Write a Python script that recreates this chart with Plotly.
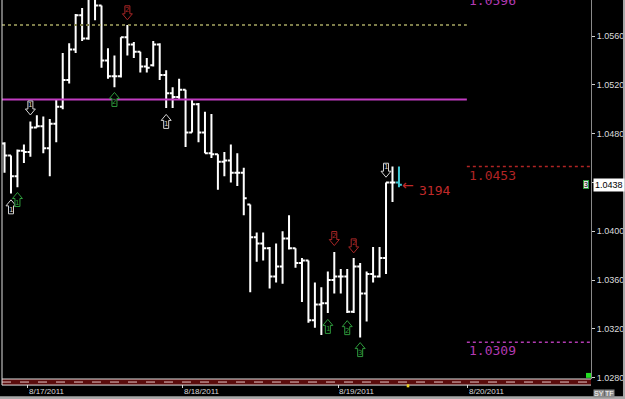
import plotly.graph_objects as go

# ---- hourly OHLC bars (index 0..61), last bar is the live (cyan) bar ----
bar_open = [1.0472, 1.0462, 1.0445, 1.0466, 1.0465, 1.0485, 1.0486, 1.0468, 1.0488, 1.0502,
            1.0524, 1.0549, 1.0577, 1.0558, 1.0592, 1.0585, 1.0540, 1.0527, 1.0527, 1.0559,
            1.0553, 1.0547, 1.0535, 1.0536, 1.0553, 1.0528, 1.0513, 1.0510, 1.0516, 1.0481,
            1.0504, 1.0481, 1.0464, 1.0463, 1.0457, 1.0458, 1.0448, 1.0448, 1.0422, 1.0395,
            1.0390, 1.0386, 1.0363, 1.0371, 1.0394, 1.0386, 1.0374, 1.0376, 1.0327, 1.0340,
            1.0341, 1.0360, 1.0363, 1.0363, 1.0334, 1.0371, 1.0349, 1.0365, 1.0363, 1.0378,
            1.0440, 1.0440]
bar_high = [1.0473, 1.0462, 1.0467, 1.0471, 1.0490, 1.0495, 1.0494, 1.0492, 1.0508, 1.0546,
            1.0554, 1.0578, 1.0583, 1.0598, 1.0596, 1.0585, 1.0550, 1.0544, 1.0559, 1.0569,
            1.0555, 1.0547, 1.0542, 1.0556, 1.0554, 1.0532, 1.0518, 1.0525, 1.0516, 1.0508,
            1.0505, 1.0498, 1.0496, 1.0463, 1.0465, 1.0471, 1.0464, 1.0452, 1.0422, 1.0399,
            1.0399, 1.0387, 1.0390, 1.0400, 1.0413, 1.0386, 1.0378, 1.0376, 1.0358, 1.0354,
            1.0367, 1.0383, 1.0369, 1.0369, 1.0378, 1.0374, 1.0367, 1.0387, 1.0387, 1.0440,
            1.0453, 1.0453]
bar_low = [1.0448, 1.0431, 1.0436, 1.0456, 1.0461, 1.0485, 1.0464, 1.0445, 1.0473, 1.0500,
           1.0521, 1.0546, 1.0556, 1.0557, 1.0573, 1.0534, 1.0525, 1.0518, 1.0526, 1.0544,
           1.0542, 1.0530, 1.0530, 1.0535, 1.0524, 1.0501, 1.0501, 1.0508, 1.0469, 1.0481,
           1.0473, 1.0464, 1.0460, 1.0434, 1.0445, 1.0440, 1.0437, 1.0413, 1.0350, 1.0375,
           1.0376, 1.0353, 1.0358, 1.0357, 1.0385, 1.0370, 1.0342, 1.0325, 1.0321, 1.0315,
           1.0333, 1.0349, 1.0349, 1.0333, 1.0333, 1.0313, 1.0326, 1.0358, 1.0362, 1.0365,
           1.0424, 1.0436]
bar_close = [1.0462, 1.0445, 1.0466, 1.0465, 1.0485, 1.0486, 1.0468, 1.0488, 1.0502, 1.0524,
             1.0549, 1.0577, 1.0558, 1.0592, 1.0585, 1.0540, 1.0527, 1.0527, 1.0559, 1.0553,
             1.0547, 1.0535, 1.0534, 1.0553, 1.0528, 1.0513, 1.0510, 1.0516, 1.0481, 1.0504,
             1.0481, 1.0464, 1.0463, 1.0457, 1.0458, 1.0448, 1.0448, 1.0427, 1.0395, 1.0390,
             1.0386, 1.0363, 1.0371, 1.0394, 1.0386, 1.0374, 1.0376, 1.0327, 1.0340, 1.0341,
             1.0360, 1.0363, 1.0363, 1.0334, 1.0371, 1.0349, 1.0365, 1.0363, 1.0378, 1.0440,
             1.0440, 1.0438]

# ---- date ticks (bar-index positions) ----
date_pos = [3.6, 27.6, 51.6, 71.6]
date_text = ["8/17/2011", "8/18/2011", "8/19/2011", "8/20/2011"]

# ---- horizontal levels ----
session_end = 71.5
left_levels = [1.0569, 1.0508]
left_colors = ["#7d7d4a", "#c23cc2"]
left_dash = ["dot", "solid"]
right_levels = [1.0596, 1.0453, 1.0309]
right_colors = ["#b23ab2", "#b02424", "#b23ab2"]
right_dash = ["dot", "dot", "dot"]
right_labels = ["1.0596", "1.0453", "1.0309"]

# ---- signal arrows ----
sig_idx = [1, 2, 4, 17, 19, 25, 50, 51, 53, 54, 55, 59]
sig_price = [1.0420, 1.0426, 1.0501, 1.0508, 1.0579, 1.0490, 1.0322, 1.0394, 1.0321, 1.0388, 1.0303, 1.0450]
sig_dir = ["up", "up", "down", "up", "down", "up", "up", "down", "up", "down", "up", "down"]
sig_label = ["1", "1", "1", "2", "2", "1", "1", "2", "2", "2", "3", "1"]
sig_kind = ["w", "g", "w", "g", "r", "w", "g", "r", "g", "r", "g", "w"]

last_price = 1.0438
counter_text = "3194"

Y_MIN, Y_MAX = 1.02789, 1.05895
X_MIN, X_MAX = -0.39, 90.7

kind_color = {"w": "#d4d4d4", "g": "#2e9a3c", "r": "#a82626"}

# block-arrow outline (pixel offsets around the anchor point)
ARROW_UP = "M 0 7 L 5 1 L 2.5 1 L 2.5 -7 L -2.5 -7 L -2.5 1 L -5 1 Z"
ARROW_DOWN = "M 0 -7 L 5 -1 L 2.5 -1 L 2.5 7 L -2.5 7 L -2.5 -1 L -5 -1 Z"

n = len(bar_open)
idx = list(range(n))

fig = go.Figure()

# levels
for lv, c, d in zip(left_levels, left_colors, left_dash):
    fig.add_trace(go.Scatter(x=[X_MIN, session_end], y=[lv, lv], mode="lines",
                             line=dict(color=c, width=2, dash=d),
                             hoverinfo="skip", showlegend=False))
for lv, c, d in zip(right_levels, right_colors, right_dash):
    fig.add_trace(go.Scatter(x=[session_end, X_MAX], y=[lv, lv], mode="lines",
                             line=dict(color=c, width=1.5, dash=d),
                             hoverinfo="skip", showlegend=False))

# bars
fig.add_trace(go.Ohlc(x=idx[:-1], open=bar_open[:-1], high=bar_high[:-1], low=bar_low[:-1],
                      close=bar_close[:-1], tickwidth=0.45,
                      increasing=dict(line=dict(color="#ffffff", width=2)),
                      decreasing=dict(line=dict(color="#ffffff", width=2)),
                      showlegend=False, hoverinfo="skip"))
fig.add_trace(go.Ohlc(x=idx[-1:], open=bar_open[-1:], high=bar_high[-1:], low=bar_low[-1:],
                      close=bar_close[-1:], tickwidth=0.45,
                      increasing=dict(line=dict(color="#3fc9d6", width=2)),
                      decreasing=dict(line=dict(color="#3fc9d6", width=2)),
                      showlegend=False, hoverinfo="skip"))

annotations = []
shapes = []

# signal arrows: outlined block arrows anchored at (bar, price) + digit in the shaft
for xi, yp, d, lab, k in zip(sig_idx, sig_price, sig_dir, sig_label, sig_kind):
    col = kind_color[k]
    shapes.append(dict(type="path", xref="x", yref="y", xsizemode="pixel", ysizemode="pixel",
                       xanchor=xi, yanchor=yp,
                       path=ARROW_UP if d == "up" else ARROW_DOWN,
                       line=dict(color=col, width=1), fillcolor="rgba(0,0,0,0.85)",
                       layer="above"))
    annotations.append(dict(x=xi, y=yp, xref="x", yref="y", text=lab, showarrow=False,
                            yshift=-3 if d == "up" else 3,
                            font=dict(family="DejaVu Sans", size=7, color=col)))

def yfrac(v):
    return (v - Y_MIN) / (Y_MAX - Y_MIN)

for lv, c, t in zip(right_levels, right_colors, right_labels):
    annotations.append(dict(x=session_end, xref="x", y=yfrac(lv), yref="paper",
                            text=t, showarrow=False, xanchor="left", yanchor="top",
                            xshift=0, yshift=1,
                            font=dict(family="DejaVu Sans Mono", size=13, color=c)))

# counter next to last bar
annotations.append(dict(x=idx[-1], y=last_price, xref="x", yref="y", text="\u2190",
                        showarrow=False, xanchor="left", xshift=1,
                        font=dict(family="DejaVu Sans", size=14, color="#c02a2a")))
annotations.append(dict(x=idx[-1], y=last_price, xref="x", yref="y", text=counter_text,
                        showarrow=False, xanchor="left", xshift=18, yshift=-6,
                        font=dict(family="DejaVu Sans Mono", size=13, color="#c02a2a")))

# last price box on the axis
annotations.append(dict(x=1, xref="paper", y=last_price, yref="y", text=f"{last_price:.4f}",
                        showarrow=False, xanchor="left", xshift=2, bgcolor="#ffffff",
                        borderpad=1, font=dict(family="Liberation Sans", size=9, color="#000000")))
annotations.append(dict(x=1, xref="paper", y=last_price, yref="y", text="3",
                        showarrow=False, xanchor="right", xshift=-2, bgcolor="#e8e8e8",
                        bordercolor="#2e9a3c", borderwidth=1, borderpad=0,
                        font=dict(family="Liberation Sans", size=7, color="#000000")))

# date labels (left aligned at tick)
for p, t in zip(date_pos, date_text):
    annotations.append(dict(x=p, xref="x", y=-0.034, yref="paper", text=t, showarrow=False,
                            xanchor="left", yanchor="middle", xshift=-1,
                            font=dict(family="Liberation Sans", size=8, color="#d8d8d8")))

# small buttons
for t, xs in zip(["SY", "TF"], [2, 13]):
    annotations.append(dict(x=1, xref="paper", y=-0.037, yref="paper", text=t, showarrow=False,
                            xanchor="left", yanchor="middle", xshift=xs,
                            bgcolor="#8a8a8a", borderpad=0,
                            font=dict(family="Liberation Sans", size=7, color="#ffffff")))

shapes += [
    # bottom band
    dict(type="rect", xref="paper", yref="paper", x0=0, x1=1, y0=-0.016, y1=0,
         fillcolor="#5a0c0c", line=dict(width=0), layer="above"),
    dict(type="line", xref="paper", yref="paper", x0=0, x1=1, y0=-0.008, y1=-0.008,
         line=dict(color="#e8c8c8", width=1, dash="dash"), layer="above"),
    dict(type="line", xref="paper", yref="paper", x0=0, x1=1, y0=0, y1=0,
         line=dict(color="#e0e0e0", width=1), layer="above"),
    dict(type="line", xref="paper", yref="paper", x0=0, x1=1, y0=-0.016, y1=-0.016,
         line=dict(color="#e0e0e0", width=1), layer="above"),
    # left frame line
    dict(type="line", xref="paper", yref="paper", x0=0, x1=0, y0=-0.016, y1=1,
         line=dict(color="#e0e0e0", width=1), layer="above"),
    # green square at bottom right of plot
    dict(type="rect", xref="paper", yref="paper", x0=0.9915, x1=1, y0=0.003, y1=0.016,
         fillcolor="#22dd22", line=dict(width=0), layer="above"),
    # yellow marker at current bar
    dict(type="rect", xref="x", yref="paper", x0=idx[-1] + 1.2, x1=idx[-1] + 1.6,
         y0=-0.022, y1=-0.014, fillcolor="#f0d020", line=dict(width=0), layer="above"),
    # outer window border
    dict(type="rect", xref="paper", yref="paper", x0=1.0543, x1=1.06, y0=-0.06, y1=1.01,
         fillcolor="#a8a8a8", line=dict(width=0), layer="above"),
    dict(type="rect", xref="paper", yref="paper", x0=-0.01, x1=1.06, y0=-0.06, y1=-0.0455,
         fillcolor="#a8a8a8", line=dict(width=0), layer="below"),
]

fig.update_layout(
    width=625, height=399,
    margin=dict(l=2, r=34, t=0, b=20),
    paper_bgcolor="#000000", plot_bgcolor="#000000",
    showlegend=False,
    annotations=annotations, shapes=shapes,
    xaxis=dict(range=[X_MIN, X_MAX], showgrid=False, zeroline=False,
               rangeslider=dict(visible=False), tickmode="array", tickvals=date_pos,
               showticklabels=False, ticks="outside", ticklen=8, tickcolor="#d0d0d0",
               showline=False),
    yaxis=dict(range=[Y_MIN, Y_MAX], side="right", showgrid=False, zeroline=False,
               tickmode="linear", tick0=1.028, dtick=0.004, tickformat=".4f",
               ticks="outside", ticklen=3, tickcolor="#d0d0d0",
               showline=True, linecolor="#8a8a8a", linewidth=1,
               tickfont=dict(family="Liberation Sans", size=9, color="#dcdcdc")),
)

fig.write_html("out.html")
